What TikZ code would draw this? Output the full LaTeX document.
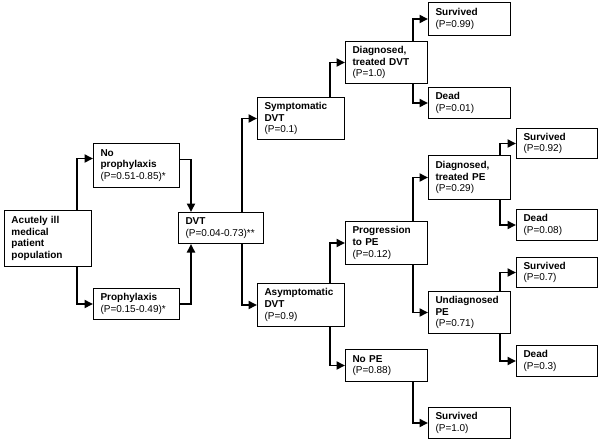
\documentclass[tikz,border=0pt]{standalone}
\usepackage{fontspec}
\setmainfont{Liberation Sans}
\usetikzlibrary{arrows.meta}

\tikzset{
  box/.style={draw,line width=1pt,anchor=north west,align=left,
    inner xsep=7pt,inner ysep=0pt,text width=#1,minimum height=31pt,
    font=\fontsize{10}{11.7}\selectfont},
  box/.default=68pt,
  flow/.style={line width=1.9pt,-{Triangle[length=8.5pt,width=8pt]}},
}

\begin{document}
\begin{tikzpicture}[x=1pt,y=1pt]
  \useasboundingbox (0,0) rectangle (603,-442);

  % population and prophylaxis
  \node[box=73pt,minimum height=56pt] (pop) at (4,-210)
    {\textbf{Acutely ill}\\\textbf{medical}\\\textbf{patient}\\\textbf{population}};
  \node[box=72pt,minimum height=44pt] (noproph) at (93,-143)
    {\textbf{No}\\\textbf{prophylaxis}\\(P=0.51-0.85)*};
  \node[box=72pt] (proph) at (93,-288)
    {\textbf{Prophylaxis}\\(P=0.15-0.49)*};
  \node[box=71pt] (dvt) at (178,-212)
    {\textbf{DVT}\\(P=0.04-0.73)**};

  % DVT branches
  \node[box=73pt,minimum height=42pt] (sympt) at (257,-97)
    {\textbf{Symptomatic}\\\textbf{DVT}\\(P=0.1)};
  \node[box=73pt,minimum height=43pt] (asympt) at (257,-283)
    {\textbf{Asymptomatic}\\\textbf{DVT}\\(P=0.9)};
  \node[box,minimum height=42pt] (diagdvt) at (345,-41)
    {\textbf{Diagnosed,}\\\textbf{treated DVT}\\(P=1.0)};
  \node[box,minimum height=43pt] (prog) at (345,-221)
    {\textbf{Progression}\\\textbf{to PE}\\(P=0.12)};
  \node[box,minimum height=32pt] (nope) at (345,-349)
    {\textbf{No PE}\\(P=0.88)};

  % outcomes
  \node[box,minimum height=33pt] (survdvt) at (428,-2)
    {\textbf{Survived}\\(P=0.99)};
  \node[box] (deaddvt) at (428,-87)
    {\textbf{Dead}\\(P=0.01)};
  \node[box,minimum height=44pt] (diagpe) at (428,-155)
    {\textbf{Diagnosed,}\\\textbf{treated PE}\\(P=0.29)};
  \node[box,minimum height=42pt] (undiag) at (428,-291)
    {\textbf{Undiagnosed}\\\textbf{PE}\\(P=0.71)};
  \node[box] (survnope) at (428,-407)
    {\textbf{Survived}\\(P=1.0)};
  \node[box=67pt,minimum height=30pt] (survdiag) at (516,-128)
    {\textbf{Survived}\\(P=0.92)};
  \node[box=67pt] (deaddiag) at (516,-209)
    {\textbf{Dead}\\(P=0.08)};
  \node[box=67pt,minimum height=30pt] (survund) at (516,-257)
    {\textbf{Survived}\\(P=0.7)};
  \node[box=67pt] (deadund) at (516,-345)
    {\textbf{Dead}\\(P=0.3)};

  % connectors
  \draw[flow] ([xshift=-15pt]pop.north east) |- ([yshift=7pt]noproph.west);
  \draw[flow] ([xshift=-15pt]pop.south east) |- (proph.west);
  \draw[flow] ([yshift=6pt]noproph.east) -| ([xshift=13pt]dvt.north west);
  \draw[flow] (proph.east) -| ([xshift=13pt]dvt.south west);
  \draw[flow] ([xshift=-22pt]dvt.north east) |- (sympt.west);
  \draw[flow] ([xshift=-22pt]dvt.south east) |- (asympt.west);
  \draw[flow] ([xshift=-15pt]sympt.north east) |- (diagdvt.west);
  \draw[flow] ([xshift=-15pt]asympt.north east) |- (prog.west);
  \draw[flow] ([xshift=-15pt]asympt.south east) |- (nope.west);
  \draw[flow] ([xshift=-15pt]diagdvt.north east) |- (survdvt.west);
  \draw[flow] ([xshift=-15pt]diagdvt.south east) |- (deaddvt.west);
  \draw[flow] ([xshift=-15pt]prog.north east) |- (diagpe.west);
  \draw[flow] ([xshift=-15pt]prog.south east) |- (undiag.west);
  \draw[flow] ([xshift=-15pt]nope.south east) |- (survnope.west);
  \draw[flow] ([xshift=-11pt]diagpe.north east) |- (survdiag.west);
  \draw[flow] ([xshift=-11pt]diagpe.south east) |- (deaddiag.west);
  \draw[flow] ([xshift=-11pt]undiag.north east) |- (survund.west);
  \draw[flow] ([xshift=-11pt]undiag.south east) |- (deadund.west);
\end{tikzpicture}
\end{document}
